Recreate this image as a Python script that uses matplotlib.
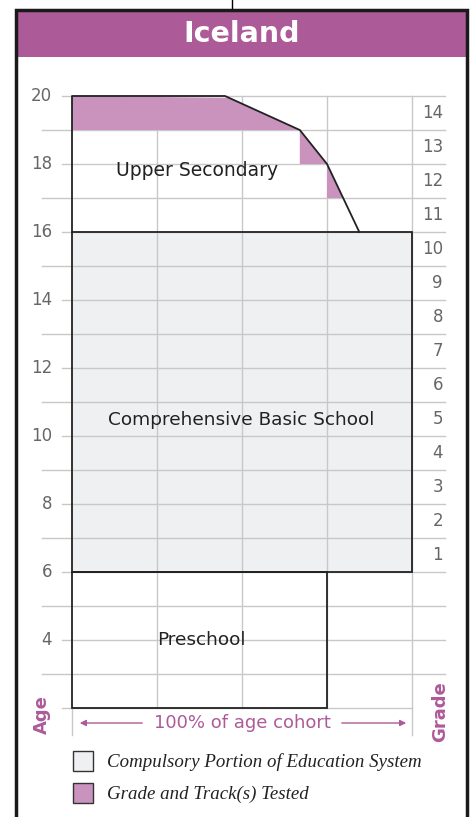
import numpy as np
import matplotlib.pyplot as plt
from matplotlib.patches import Rectangle, Polygon

# data
age_ticks = [4, 6, 8, 10, 12, 14, 16, 18, 20]
grades = list(range(1, 15))
grade1_age = 6          # grade g occupies ages g+5 .. g+6

# upper secondary outline (percent of cohort, age)
upper_pct = [0, 0, 45, 67, 75, 84.5]
upper_age = [16, 20, 20, 19, 18, 16]
# tested bands: (age_low, age_high, pct_start)
tested = [(19, 20, 0), (18, 19, 67), (17, 18, 75)]

comp_pct, comp_age = (0, 100), (6, 16)
pre_pct, pre_age = (0, 75), (2, 6)

purple = '#AD5A99'
tested_col = '#C993BE'
comp_col = '#EFF0F2'
grid_col = '#C8C8C8'
line_col = '#222222'

W, H = 472, 817
fig = plt.figure(figsize=(W / 100, H / 100), dpi=100)
ax = fig.add_axes([0, 0, 1, 1])

# pixel helpers (x: 0% at 72px, 3.4 px per %; y: age 20 at 96px, 34 px per year)
def px(x):
    return (x - 72) / 3.4

def py(y):
    return 20 - (y - 96) / 34

ax.set_xlim(px(0), px(W))
ax.set_ylim(py(H), py(0))
ax.axis('off')

# frame + title band
ax.add_patch(Rectangle((px(16), py(57)), px(467) - px(16), py(10) - py(57),
                       facecolor=purple, edgecolor='none', zorder=0))
ax.add_patch(Rectangle((px(16), py(840)), px(467) - px(16), py(10) - py(840),
                       facecolor='none', edgecolor='#1a1a1a', lw=2.5, zorder=6))
ax.plot([px(232), px(232)], [py(0), py(10)], color='black', lw=1)
ax.text(px(242), py(34), 'Iceland', color='white', fontsize=20.5, fontweight='bold',
        ha='center', va='center', family='DejaVu Sans')

# compulsory block fill (under grid)
ax.add_patch(Rectangle((comp_pct[0], comp_age[0]), comp_pct[1] - comp_pct[0],
                       comp_age[1] - comp_age[0], facecolor=comp_col, edgecolor='none', zorder=1))

# horizontal grid
for a in range(2, 21):
    x0 = px(62) if a % 2 == 0 else px(42)
    x1 = 100 if a == 2 else px(445)
    ax.plot([x0, x1], [a, a], color=grid_col, lw=1, zorder=2)
# vertical grid
for p in [25, 50, 75]:
    ax.plot([p, p], [2, 20], color=grid_col, lw=1, zorder=2)
ax.plot([100, 100], [py(735), 20], color=grid_col, lw=1, zorder=2)
ax.plot([0, 0], [py(735), 2], color=grid_col, lw=1, zorder=2)

# tested shading
for lo, hi, start in tested:
    ys = np.linspace(lo, hi, 20)
    xr = np.interp(ys, upper_age[1:][::-1], upper_pct[1:][::-1])
    verts = [(start, lo)] + list(zip(xr, ys)) + [(start, hi)]
    ax.add_patch(Polygon(verts, closed=True, facecolor=tested_col, edgecolor='none', zorder=3))

# outlines
ax.plot(upper_pct, upper_age, color=line_col, lw=1.3, zorder=4)
ax.add_patch(Rectangle((comp_pct[0], comp_age[0]), comp_pct[1] - comp_pct[0],
                       comp_age[1] - comp_age[0], facecolor='none', edgecolor=line_col, lw=1.3, zorder=4))
ax.add_patch(Rectangle((pre_pct[0], pre_age[0]), pre_pct[1] - pre_pct[0],
                       pre_age[1] - pre_age[0], facecolor='none', edgecolor=line_col, lw=1.3, zorder=4))

# block labels
ax.text(px(197), py(170), 'Upper Secondary', fontsize=13.5, color='#222', ha='center', va='center', zorder=5)
ax.text(px(241), py(420), 'Comprehensive Basic School', fontsize=13.3, color='#222', ha='center', va='center', zorder=5)
ax.text(px(201), py(640), 'Preschool', fontsize=13.3, color='#222', ha='center', va='center', zorder=5)

# tick labels
for a in age_ticks:
    ax.text(px(52), a, str(a), fontsize=12, color='#666', ha='right', va='center')
for g in grades:
    ax.text(px(443), g + grade1_age - 0.5, str(g), fontsize=12, color='#666', ha='right', va='center')

ax.text(px(42), py(715), 'Age', fontsize=13, color=purple, rotation=90, ha='center', va='center', fontweight='bold')
ax.text(px(440), py(712), 'Grade', fontsize=13, color=purple, rotation=90, ha='center', va='center', fontweight='bold')

# cohort arrow
ya = py(723)
ax.text(px(242), ya, '100% of age cohort', fontsize=13, color=purple, ha='center', va='center')
ax.annotate('', xy=(px(77), ya), xytext=(px(145), ya),
            arrowprops=dict(arrowstyle='-|>', color=purple, lw=1, mutation_scale=9))
ax.annotate('', xy=(px(409), ya), xytext=(px(339), ya),
            arrowprops=dict(arrowstyle='-|>', color=purple, lw=1, mutation_scale=9))

# legend
for (y0, col, txt) in [(751, comp_col, 'Compulsory Portion of Education System'),
                       (783, tested_col, 'Grade and Track(s) Tested')]:
    ax.add_patch(Rectangle((px(73), py(y0 + 20)), px(93) - px(73), py(y0) - py(y0 + 20),
                           facecolor=col, edgecolor='#333', lw=1, zorder=5))
    ax.text(px(107), py(y0 + 11), txt, fontsize=13.6, style='italic', family='Liberation Serif',
            color='#222', ha='left', va='center')

fig.savefig('out.png', dpi=100)
